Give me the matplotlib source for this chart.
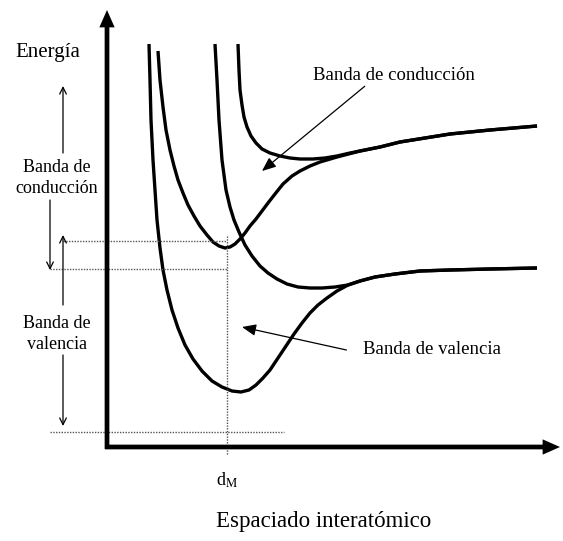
import matplotlib
matplotlib.use("Agg")
import matplotlib.pyplot as plt

plt.rcParams["font.family"] = ["Liberation Serif", "DejaVu Serif"]
plt.rcParams["mathtext.fontset"] = "stix"

# ── band curves (interatomic spacing, energy), arbitrary units ───────────────
val_low_x = [42, 43, 44, 46, 48, 50, 53, 56, 60, 65, 71, 78, 86, 95, 105, 115, 125, 134,
             142, 149, 156, 163, 171, 179, 187, 195, 203, 211, 220, 230, 241, 253, 268,
             288, 313, 343, 383, 430]
val_low_y = [403, 367, 327, 287, 257, 227, 199, 177, 157, 137, 119, 102, 88, 76, 66, 60, 56, 55,
             57, 62, 69, 77, 89, 101, 113, 124, 134, 142, 149, 156, 162, 166, 170,
             173, 176, 177, 178, 179]

val_up_x = [108, 110, 112, 115, 119, 123, 127, 132, 138, 145, 153, 161, 170, 180, 191, 203,
            215, 228, 241, 253, 268, 288, 313, 343, 383, 430]
val_up_y = [403, 367, 327, 287, 257, 240, 227, 215, 202, 191, 181, 174, 168, 163, 160, 159,
            159, 160, 162, 166, 170, 173, 176, 177, 178, 179]

cond_low_x = [51, 53, 56, 59, 63, 67, 71, 76, 81, 87, 93, 100, 106, 112, 118, 123, 128, 133,
              138, 143, 149, 155, 161, 168, 176, 185, 193, 203, 213, 230, 253, 273, 293,
              343, 383, 430]
cond_low_y = [396, 367, 340, 317, 297, 281, 267, 254, 242, 231, 221, 212, 205, 201, 199, 200,
              203, 208, 214, 221, 228, 236, 244, 253, 263, 271, 276, 281, 285, 290, 296,
              300, 305, 313, 317, 321]

cond_up_x = [131, 132, 133, 135, 137, 140, 144, 149, 155, 163, 173, 183, 193, 206, 218, 230,
             243, 253, 273, 293, 343, 383, 430]
cond_up_y = [403, 377, 357, 342, 330, 320, 311, 304, 298, 294, 291, 289, 288, 288, 289, 291,
             294, 296, 300, 305, 313, 317, 321]

# equilibrium spacing and band edges at d_M
d_M = 120
cond_bottom, val_top, val_bottom = 206, 178, 15
x_end, y_end = 453, 437

fig = plt.figure(figsize=(5.63, 5.41), dpi=100)
ax = fig.add_axes([0, 0, 1, 1])
ax.set_xlim(-107, 456)
ax.set_ylim(-94, 447)
ax.axis("off")

# curves
for xs, ys in [(val_low_x, val_low_y), (val_up_x, val_up_y),
               (cond_low_x, cond_low_y), (cond_up_x, cond_up_y)]:
    ax.plot(xs, ys, color="black", lw=2.4, solid_capstyle="butt",
            solid_joinstyle="round")

# axes with arrow heads
axis_style = dict(width=3.4, headwidth=11, headlength=12.5, lw=0,
                  fc="black", shrink=0)
ax.annotate("", xy=(0, y_end), xytext=(0, -2), arrowprops=axis_style)
ax.annotate("", xy=(x_end, 0), xytext=(-2, 0), arrowprops=axis_style)

# dotted guide lines
dot = dict(color="#555555", lw=1, ls=(0, (1, 1)))
ax.plot([-44, d_M], [cond_bottom, cond_bottom], **dot)
ax.plot([-57, d_M], [val_top, val_top], **dot)
ax.plot([-57, 177], [val_bottom, val_bottom], **dot)
ax.plot([d_M, d_M], [211, -8], **dot)

# band width arrows on the left
thin = dict(arrowstyle="->", lw=0.9, color="black", mutation_scale=12,
            shrinkA=0, shrinkB=0)
ax.annotate("", xy=(-44, 361), xytext=(-44, 294), arrowprops=thin)
ax.annotate("", xy=(-57, 177), xytext=(-57, 247), arrowprops=thin)
ax.annotate("", xy=(-44, 212), xytext=(-44, 142), arrowprops=thin)
ax.annotate("", xy=(-44, 21), xytext=(-44, 92), arrowprops=thin)

ax.text(-50, 269, "Banda de\nconducción", ha="center", va="center",
        fontsize=13, linespacing=1.25)
ax.text(-50, 113, "Banda de\nvalencia", ha="center", va="center",
        fontsize=13, linespacing=1.25)
ax.text(-59, 390, "Energía", ha="center", va="baseline", fontsize=15)

# labelled pointers
ptr = dict(arrowstyle="-|>,head_length=0.6,head_width=0.25", lw=0.9,
           color="black", mutation_scale=14, shrinkA=0, shrinkB=0)
ax.annotate("Banda de conducción", xy=(155, 276), xytext=(287, 372),
            ha="center", va="center", fontsize=13.5,
            arrowprops=dict(ptr, relpos=(0.34, 0.0)))
ax.annotate("Banda de valencia", xy=(135, 120), xytext=(325, 97),
            ha="center", va="center", fontsize=13.5,
            arrowprops=dict(ptr, relpos=(-0.12, 0.5)))

ax.text(d_M, -33, r"d$_\mathrm{M}$", ha="center", va="center", fontsize=13)
ax.text(217, -75, "Espaciado interatómico", ha="center", va="center",
        fontsize=16.5)

fig.savefig("out.png", dpi=100, facecolor="white")
